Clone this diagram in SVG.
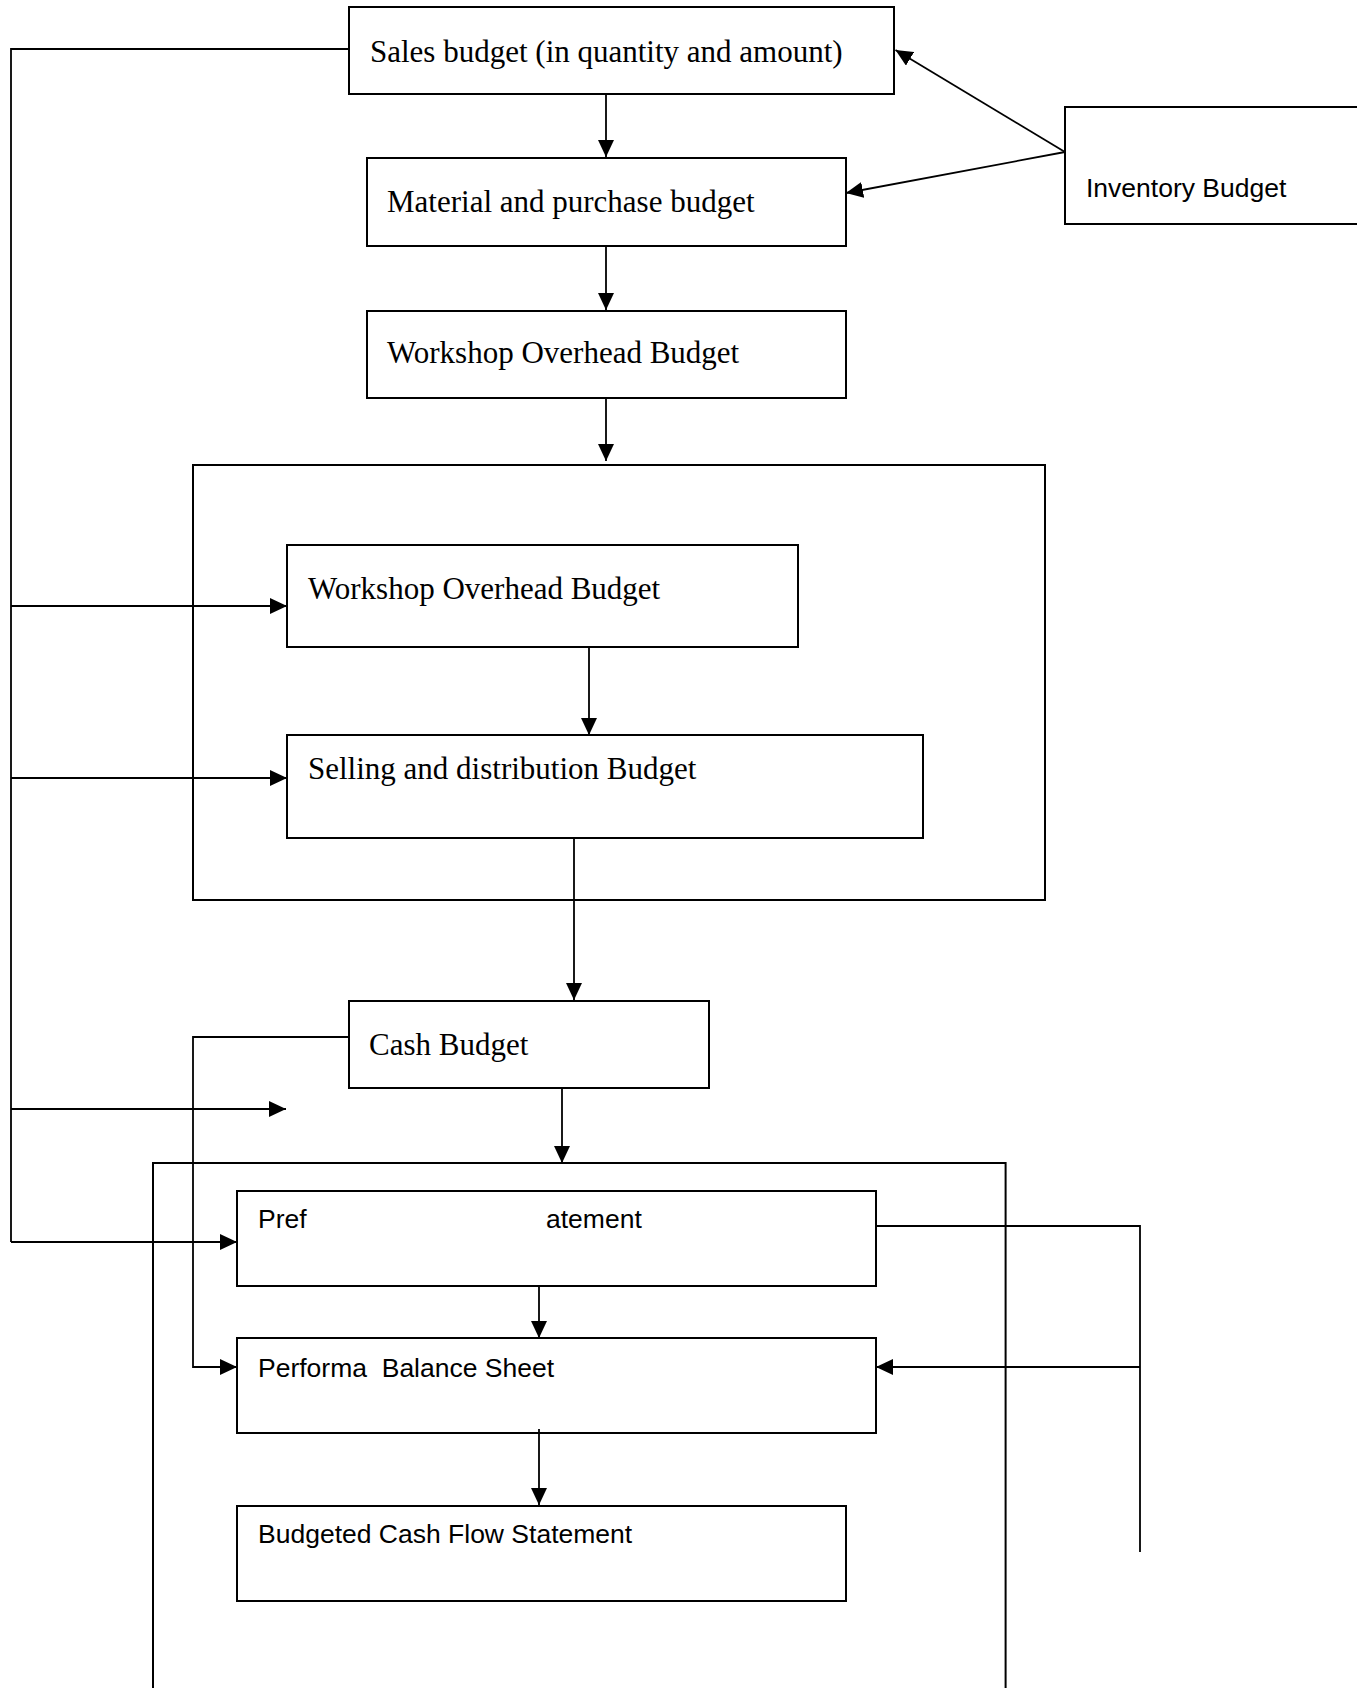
<svg xmlns="http://www.w3.org/2000/svg" width="1357" height="1688" viewBox="0 0 1357 1688">
<style>
.box{fill:none;stroke:#000;stroke-width:2}
.frame{fill:none;stroke:#000;stroke-width:2}
.ser{font-family:"Liberation Serif","Times New Roman",serif;font-size:31px;fill:#000}
.san{font-family:"Liberation Sans",Arial,sans-serif;font-size:26.5px;fill:#000;white-space:pre}
.ln{fill:none;stroke:#000;stroke-width:1.8}
.ar{fill:none;stroke:#000;stroke-width:1.8;marker-end:url(#ah)}
</style>
<defs>
<marker id="ah" markerUnits="userSpaceOnUse" markerWidth="18" markerHeight="17" refX="17" refY="8" orient="auto">
<path d="M0,0 L17,8 L0,16 z" fill="#000"/>
</marker>
</defs>
<rect width="1357" height="1688" fill="#fff"/>
<g id="sales"><rect class="box" x="349" y="7" width="545" height="87"/><text class="ser" x="370" y="62">Sales budget (in quantity and amount)</text></g>
<g id="inventory"><rect class="box" x="1065" y="107" width="310" height="117"/><text class="san" x="1086" y="197">Inventory Budget</text></g>
<g id="material"><rect class="box" x="367" y="158" width="479" height="88"/><text class="ser" x="387" y="212">Material and purchase budget</text></g>
<g id="workshop1"><rect class="box" x="367" y="311" width="479" height="87"/><text class="ser" x="387" y="363">Workshop Overhead Budget</text></g>
<g id="group1"><rect class="frame" x="193" y="465" width="852" height="435"/></g>
<g id="workshop2"><rect class="box" x="287" y="545" width="511" height="102"/><text class="ser" x="308" y="599">Workshop Overhead Budget</text></g>
<g id="selling"><rect class="box" x="287" y="735" width="636" height="103"/><text class="ser" x="308" y="779">Selling and distribution Budget</text></g>
<g id="cash"><rect class="box" x="349" y="1001" width="360" height="87"/><text class="ser" x="369" y="1055">Cash Budget</text></g>
<g id="group2"><path class="frame" d="M153,1700 V1163 H1005.6 V1700"/></g>
<g id="pref"><rect class="box" x="237" y="1191" width="639" height="95"/><text class="san" x="258" y="1228">Pref<tspan x="546">atement</tspan></text></g>
<g id="performa"><rect class="box" x="237" y="1338" width="639" height="95"/><text class="san" x="258" y="1377">Performa  Balance Sheet</text></g>
<g id="budgeted"><rect class="box" x="237" y="1506" width="609" height="95"/><text class="san" x="258" y="1543">Budgeted Cash Flow Statement</text></g>
<g id="connectors">
<path class="ar" d="M606,94 V157"/>
<path class="ar" d="M606,246 V310"/>
<path class="ar" d="M606,398 V461"/>
<path class="ar" d="M1065,152 L895.5,50"/>
<path class="ar" d="M1065,152 L846,193"/>
<path class="ln" d="M349,49 H11 V1242"/>
<path class="ar" d="M11,606 H287"/>
<path class="ar" d="M11,778 H287"/>
<path class="ar" d="M11,1109 H286"/>
<path class="ar" d="M11,1242 H237"/>
<path class="ar" d="M589,647 V735"/>
<path class="ar" d="M574,838 V1000"/>
<path class="ar" d="M562,1088 V1163"/>
<path class="ar" d="M349,1037 H193 V1367 H237"/>
<path class="ar" d="M539,1286 V1338"/>
<path class="ar" d="M539,1429 V1505"/>
<path class="ln" d="M876,1226 H1140 V1552"/>
<path class="ar" d="M1140,1367 H876"/>
</g>
</svg>
